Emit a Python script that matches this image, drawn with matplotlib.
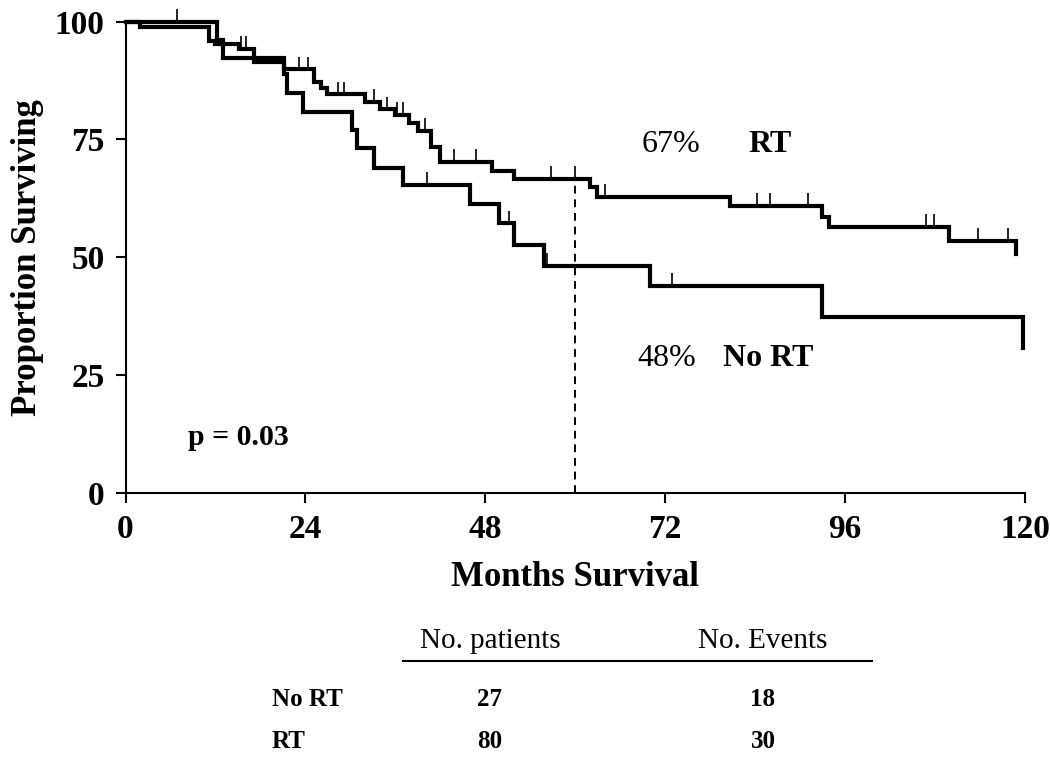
import matplotlib
matplotlib.use("Agg")
import matplotlib.pyplot as plt
import numpy as np

plt.rcParams['font.family'] = ['Liberation Serif', 'DejaVu Serif']

# ---- data ----
# No RT arm: step times (months) and survival (%) after each step
norts_t = [0, 12.2, 13.0, 21.1, 21.6, 23.7, 30.2, 30.9, 33.1, 37.0, 45.9,
           49.8, 51.8, 55.8, 70.0, 92.9, 119.7]
norts_s = [100, 96.1, 92.2, 89.0, 84.8, 80.9, 77.0, 73.1, 68.9, 65.3, 61.2,
           57.2, 52.6, 48.1, 43.9, 37.2, 30.7]
norts_cens = [6.9, 40.2, 51.2, 56.2, 72.9]

# RT arm
rt_t = [0, 1.9, 11.1, 12.0, 15.1, 17.2, 21.1, 25.1, 26.1, 26.9, 31.9, 34.0,
        36.0, 37.8, 39.0, 40.7, 41.9, 48.9, 51.8, 62.0, 62.9, 80.7, 92.9,
        93.8, 109.9, 118.8]
rt_s = [100, 98.8, 96.0, 95.2, 94.3, 91.4, 89.9, 87.3, 85.9, 84.6, 83.0, 81.4,
        80.2, 78.4, 76.9, 73.5, 70.3, 68.2, 66.7, 64.8, 62.8, 60.9, 58.6,
        56.4, 53.5, 50.7]
rt_cens = [15.4, 16.1, 23.2, 24.3, 28.4, 29.2, 33.1, 34.9, 36.2, 37.0, 39.9,
           43.8, 46.8, 56.8, 59.9, 64.0, 84.3, 86.0, 91.0, 106.8, 107.9,
           113.7, 117.7]

ref_month = 60
xticks = [0, 24, 48, 72, 96, 120]
yticks = [0, 25, 50, 75, 100]

groups = ["No RT", "RT"]
n_patients = [27, 80]
n_events = [18, 30]
pct_labels = {"RT": "67%", "No RT": "48%"}


def surv_at(ts, ss, t):
    idx = np.searchsorted(ts, t, side='right') - 1
    return ss[max(idx, 0)]


W, H = 1050, 759
fig = plt.figure(figsize=(W / 100, H / 100), dpi=100)
ax = fig.add_axes([125.5 / W, 1 - 492.7 / H, (1025 - 125.5) / W, (492.7 - 21.7) / H])

for ts, ss, cens in [(norts_t, norts_s, norts_cens), (rt_t, rt_s, rt_cens)]:
    ax.step(ts, ss, where='post', color='black', lw=3.0, clip_on=False,
            solid_joinstyle='miter', zorder=3)
    cy = [surv_at(ts, ss, c) for c in cens]
    ax.vlines(cens, cy, [y + 2.7 for y in cy], color='black', lw=1.2,
              clip_on=False, zorder=3)

ax.vlines([ref_month], 0, surv_at(rt_t, rt_s, ref_month), color='black',
          lw=1.4, linestyles=(0, (4, 3)), zorder=2)

ax.set_xlim(0, 120)
ax.set_ylim(0, 100)
ax.set_xticks(xticks)
ax.set_yticks(yticks)
ax.set_xticklabels([str(v) for v in xticks], fontweight='bold', fontsize=24)
ax.set_yticklabels([str(v) for v in yticks], fontweight='bold', fontsize=24)
for s in ['top', 'right']:
    ax.spines[s].set_visible(False)
for s in ['left', 'bottom']:
    ax.spines[s].set_linewidth(1.5)
ax.tick_params(direction='out', length=7, width=1.5, pad=8)

ax.set_xlabel("Months Survival", fontsize=25, fontweight='bold', labelpad=12)
ax.set_ylabel("Proportion Surviving", fontsize=25, fontweight='bold', labelpad=8)


def ftext(x, y, s, **kw):
    fig.text(x / W, 1 - y / H, s, **kw)


ftext(671, 145, pct_labels["RT"], fontsize=23, ha='center', va='center')
ftext(770, 145, "RT", fontsize=23, fontweight='bold', ha='center', va='center')
ftext(667, 358, pct_labels["No RT"], fontsize=23, ha='center', va='center')
ftext(768, 358, "No RT", fontsize=23, fontweight='bold', ha='center', va='center')
ftext(238, 437, "p = 0.03", fontsize=21.5, fontweight='bold', ha='center', va='center')

# table below
ftext(490, 641, "No. patients", fontsize=21, ha='center', va='center')
ftext(763, 641, "No. Events", fontsize=21, ha='center', va='center')
fig.add_artist(plt.Line2D([403 / W, 872 / W], [1 - 661 / H, 1 - 661 / H],
                          color='black', lw=1.5))
for i, (g, n, e) in enumerate(zip(groups, n_patients, n_events)):
    y = 700 + i * 41
    ftext(272, y, g, fontsize=18, fontweight='bold', ha='left', va='center')
    ftext(490, y, str(n), fontsize=18, fontweight='bold', ha='center', va='center')
    ftext(763, y, str(e), fontsize=18, fontweight='bold', ha='center', va='center')

fig.savefig("out.png", dpi=100)
